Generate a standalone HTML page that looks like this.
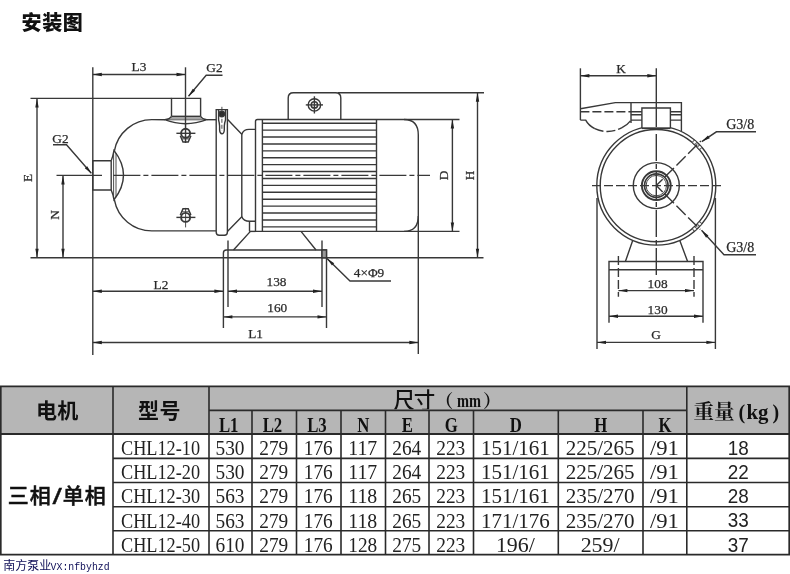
<!DOCTYPE html>
<html lang="zh-CN">
<head>
<meta charset="utf-8">
<title>安装图</title>
<style>
html,body{margin:0;padding:0;background:#fff;}
body{width:790px;height:574px;overflow:hidden;position:relative;font-family:"Liberation Serif","Noto Serif CJK SC",serif;}
svg{position:absolute;left:0;top:0;display:block;filter:blur(0.45px);}
.g line,.g path,.g circle,.g rect,.g ellipse{stroke:#383838;stroke-width:1.4;fill:none;stroke-linecap:butt;}
.g .th{stroke-width:0.9;}
.g .ar{fill:#222;stroke:none;}
.g .cl{stroke-dasharray:27 3 5 3;}
.g .ds{stroke-dasharray:9 3;}
.g .dd{stroke-dasharray:9 3 13 3.5 13 3.5 13 3.5;}
.g .fill{fill:#fff;}
.dt{font-family:"Liberation Serif",serif;font-size:13.3px;fill:#2a2a2a;stroke:#2a2a2a;stroke-width:0.25;}
.title{font-family:"Liberation Sans","Noto Sans CJK SC",sans-serif;font-weight:900;font-size:20px;letter-spacing:0.6px;fill:#111;}
.t line{stroke:#2a2a2a;stroke-width:1.6;}
.t .bd{stroke-width:1.9;}
.hb{font-family:"Liberation Sans","Noto Sans CJK SC",sans-serif;font-weight:bold;fill:#111;}
.hs{font-family:"Liberation Serif","Noto Serif CJK SC",serif;font-weight:bold;fill:#111;}
.hr{font-family:"Liberation Sans","Noto Sans CJK SC",sans-serif;fill:#111;}
.td{font-family:"Liberation Serif","Noto Serif CJK SC",serif;font-size:20.5px;fill:#222;}
.tw{font-family:"Liberation Sans",sans-serif;font-size:20px;fill:#222;}
.wm{font-size:12px;fill:#0d0d56;}
.wmc{font-family:"Liberation Sans","Noto Sans CJK SC",sans-serif;font-size:12px;}
.wml{font-family:"Liberation Mono",monospace;font-size:11.5px;}
</style>
</head>
<body>
<svg width="790" height="574" viewBox="0 0 790 574">
<text x="21.6" y="29.6" class="title" text-anchor="start">安装图</text>
<g class="g">
<line x1="92.8" y1="67.3" x2="92.8" y2="355"/>
<line x1="185.5" y1="67.3" x2="185.5" y2="143"/>
<line x1="92.8" y1="74.5" x2="185.5" y2="74.5"/>
<polygon class="ar" points="92.8,74.5 101.8,76.2 101.8,72.8"/>
<polygon class="ar" points="185.5,74.5 176.5,72.8 176.5,76.2"/>
<path d="M188.5 96.2 L206.2 75.2 L222.5 75.2"/>
<polygon class="ar" points="188.5,96.2 195.2,90.73 192.75,88.67"/>
<line x1="30.5" y1="98.4" x2="171.5" y2="98.4"/>
<line x1="37" y1="98.4" x2="37" y2="257.8"/>
<polygon class="ar" points="37,98.4 35.3,107.4 38.7,107.4"/>
<polygon class="ar" points="37,257.8 38.7,248.8 35.3,248.8"/>
<line x1="30.5" y1="257.8" x2="483.5" y2="257.8"/>
<line x1="63" y1="175.4" x2="63" y2="257.8"/>
<polygon class="ar" points="63,175.4 61.3,184.4 64.7,184.4"/>
<polygon class="ar" points="63,257.8 64.7,248.8 61.3,248.8"/>
<line x1="56.5" y1="175.4" x2="102" y2="175.4"/>
<line x1="113.4" y1="175.4" x2="430" y2="175.4" class="cl"/>
<path d="M53 144.8 L66.5 144.8 L91.3 173.3"/>
<polygon class="ar" points="91.6,173.6 87.23,166.14 84.81,168.24"/>
<path d="M111.2 160.8 L92.8 160.8 L92.8 190 L111.2 190"/>
<path d="M111.2 160.8 L111.2 190"/>
<path d="M111.2 160.8 Q113 156 114 150.4 Q133 175.2 114 199.8 Q113 194 111.2 190"/>
<path d="M113.6 151.5 L113.6 199" class="th"/>
<path d="M116 153 L116 197.3" class="th"/>
<path d="M114.4 150.8 A38 38 0 0 1 152 119.6 L165 119.7"/>
<path d="M206.8 119.7 L216.2 119.7"/>
<path d="M114.4 199.8 A38 38 0 0 0 152 230.9 L216.2 230.9"/>
<path d="M171.5 116.3 L171.5 98.4 L200.6 98.4 L200.6 116.3"/>
<path d="M171.5 116.3 L200.6 116.3"/>
<path d="M171.5 116.3 Q170 119 164.7 119.7 Q185.5 127.8 206.8 119.7 Q202 119 200.6 116.3"/>
<path d="M170.4 118 L201.8 118" class="th"/>
<path d="M166 119.8 L205.5 119.8" class="th"/>
<circle cx="185.6" cy="133.3" r="4.5" style="stroke-width:1.9"/>
<line x1="176.4" y1="133.3" x2="195.4" y2="133.3"/>
<path d="M180.3 135.70000000000002 L183 142.0 L188.2 142.0 L190.9 135.70000000000002" style="stroke-width:1.5"/>
<path d="M181.6 138.9 L189.6 138.9" class="th"/>
<line x1="185.6" y1="123.3" x2="185.6" y2="142.8" class="th"/>
<circle cx="185.6" cy="217.4" r="4.5" style="stroke-width:1.9"/>
<line x1="176.4" y1="217.4" x2="195.4" y2="217.4"/>
<path d="M180.3 215.0 L183 208.70000000000002 L188.2 208.70000000000002 L190.9 215.0" style="stroke-width:1.5"/>
<path d="M181.6 211.8 L189.6 211.8" class="th"/>
<line x1="185.6" y1="227.4" x2="185.6" y2="207.9" class="th"/>
<path d="M216.2 232 L216.2 109.6 L227.4 109.6 L227.4 232 Q227.4 235.2 224.4 235.2 L219.2 235.2 Q216.2 235.2 216.2 232 Z"/>
<circle cx="221.8" cy="114" r="2.7" style="fill:#2a2a2a"/>
<path d="M218.6 110 L218.6 120 Q219.4 123 219.6 126 L219.6 130 Q219.9 133.8 221.9 133.8 Q224 133.8 224.3 130 L224.3 126 Q224.5 123 225.5 120 L225.5 110"/>
<line x1="221.9" y1="106.8" x2="221.9" y2="131" class="th" stroke-dasharray="4 2"/>
<path d="M227.4 119.2 L241.8 134.3 L241.8 216.7 L227.4 231.6"/>
<path d="M241.8 134.3 Q243.5 129.4 249 129.4 L255.5 129.4"/>
<path d="M241.8 216.7 Q243.5 221.2 249.5 221.2 L255.5 221.2"/>
<path d="M249.5 221.2 L249.5 231.4"/>
<path d="M255.5 231.4 L255.5 121.5 Q255.5 119.5 257.5 119.5 L404 119.5 Q418.3 119.5 418.3 135 L418.3 216 Q418.3 231.4 404 231.4 Z"/>
<line x1="262.4" y1="119.5" x2="262.4" y2="231.4"/>
<line x1="376.5" y1="119.5" x2="376.5" y2="231.4"/>
<line x1="262.4" y1="123.2" x2="376.5" y2="123.2"/>
<line x1="262.4" y1="130.11" x2="376.5" y2="130.11"/>
<line x1="262.4" y1="137.02" x2="376.5" y2="137.02"/>
<line x1="262.4" y1="143.93" x2="376.5" y2="143.93"/>
<line x1="262.4" y1="150.84" x2="376.5" y2="150.84"/>
<line x1="262.4" y1="157.75" x2="376.5" y2="157.75"/>
<line x1="262.4" y1="164.66" x2="376.5" y2="164.66"/>
<line x1="262.4" y1="171.57" x2="376.5" y2="171.57"/>
<line x1="262.4" y1="178.48" x2="376.5" y2="178.48"/>
<line x1="262.4" y1="185.39" x2="376.5" y2="185.39"/>
<line x1="262.4" y1="192.3" x2="376.5" y2="192.3"/>
<line x1="262.4" y1="199.21" x2="376.5" y2="199.21"/>
<line x1="262.4" y1="206.12" x2="376.5" y2="206.12"/>
<line x1="262.4" y1="213.03" x2="376.5" y2="213.03"/>
<line x1="262.4" y1="219.94" x2="376.5" y2="219.94"/>
<line x1="262.4" y1="226.85" x2="376.5" y2="226.85"/>
<path d="M288.2 119.5 L288.2 98 Q288.2 92.8 293.4 92.8 L335.6 92.8 Q340.8 92.8 340.8 98 L340.8 119.5"/>
<circle cx="314.4" cy="104.9" r="6.2"/>
<circle cx="314.4" cy="104.9" r="3.2" style="stroke-width:1.5"/>
<line x1="305.8" y1="104.9" x2="323" y2="104.9"/>
<line x1="314.4" y1="96.3" x2="314.4" y2="113.5"/>
<line x1="338" y1="92.8" x2="484" y2="92.8"/>
<line x1="404" y1="119.5" x2="459.5" y2="119.5"/>
<line x1="404" y1="231.4" x2="459.5" y2="231.4"/>
<line x1="452.4" y1="119.5" x2="452.4" y2="231.4"/>
<polygon class="ar" points="452.4,119.5 450.7,128.5 454.1,128.5"/>
<polygon class="ar" points="452.4,231.4 454.1,222.4 450.7,222.4"/>
<line x1="477.5" y1="92.8" x2="477.5" y2="257.8"/>
<polygon class="ar" points="477.5,92.8 475.8,101.8 479.2,101.8"/>
<polygon class="ar" points="477.5,257.8 479.2,248.8 475.8,248.8"/>
<line x1="418.3" y1="216" x2="418.3" y2="354"/>
<path d="M250.4 231.4 L233.5 250 M301 231.4 L316 250"/>
<line x1="249.5" y1="231.4" x2="255.5" y2="231.4"/>
<path d="M223.4 328 L223.4 253 Q223.4 250 226.4 250 L326.5 250 L326.5 328"/>
<line x1="228" y1="240.5" x2="228" y2="307"/>
<line x1="322" y1="240.5" x2="322" y2="307"/>
<rect x="322" y="250" width="4.5" height="7.8" style="fill:#999"/>
<line x1="228" y1="291.2" x2="322" y2="291.2"/>
<polygon class="ar" points="228,291.2 237,292.9 237,289.5"/>
<polygon class="ar" points="322,291.2 313,289.5 313,292.9"/>
<line x1="223.4" y1="316.9" x2="326.5" y2="316.9"/>
<polygon class="ar" points="223.4,316.9 232.4,318.6 232.4,315.2"/>
<polygon class="ar" points="326.5,316.9 317.5,315.2 317.5,318.6"/>
<line x1="92.8" y1="291.2" x2="223.4" y2="291.2"/>
<polygon class="ar" points="92.8,291.2 101.8,292.9 101.8,289.5"/>
<polygon class="ar" points="223.4,291.2 214.4,289.5 214.4,292.9"/>
<line x1="92.8" y1="342.5" x2="418.3" y2="342.5"/>
<polygon class="ar" points="92.8,342.5 101.8,344.2 101.8,340.8"/>
<polygon class="ar" points="418.3,342.5 409.3,340.8 409.3,344.2"/>
<path d="M327 258.5 L350 281 L391 281"/>
<polygon class="ar" points="327,258.5 331.96,265.59 334.19,263.3"/>
<line x1="580.4" y1="68.3" x2="580.4" y2="120.1"/>
<line x1="580.4" y1="75.8" x2="656.3" y2="75.8"/>
<polygon class="ar" points="580.4,75.8 589.4,77.5 589.4,74.1"/>
<polygon class="ar" points="656.3,75.8 647.3,74.1 647.3,77.5"/>
<circle cx="656.3" cy="185.6" r="59.5"/>
<circle cx="656.3" cy="185.6" r="56.1"/>
<circle cx="656.3" cy="185.6" r="23"/>
<circle cx="656.3" cy="185.6" r="14.4" style="stroke-width:1.9"/>
<circle cx="656.3" cy="185.6" r="11.8" style="stroke-width:1.7"/>
<circle cx="656.3" cy="185.6" r="10.2" class="th"/>
<line x1="592" y1="185.6" x2="721" y2="185.6" class="ds"/>
<line x1="656.3" y1="134" x2="656.3" y2="278" class="cl"/>
<line x1="656.3" y1="185.6" x2="700.8" y2="141.1" class="dd"/>
<line x1="656.3" y1="185.6" x2="700.3" y2="229.6" class="dd"/>
<path d="M631 123 L631 102.6 L681.4 102.6 L681.4 131"/>
<path d="M631 111.7 L641.9 111.7 M670.4 111.7 L681.4 111.7"/>
<path d="M631 114.8 L641.9 114.8 M670.4 114.8 L681.4 114.8"/>
<path d="M631 120.1 L641.9 120.1 M670.4 120.1 L681.4 120.1"/>
<path d="M641.9 128.2 L641.9 108 L670.4 108 L670.4 128.2" class="fill"/>
<path d="M641.9 128.2 L670.4 128.2" style="stroke-width:1.8"/>
<line x1="656.3" y1="68.3" x2="656.3" y2="127"/>
<path d="M631 102.6 L615.3 102.6 L580.4 108.7"/>
<path d="M580.4 111.7 L631 111.7" class="ds"/>
<path d="M580.4 120.1 L585.7 120.1 Q588.5 125.5 594.8 128.6"/>
<path d="M594.8 128.6 Q608.5 134.8 622 127.7" class="ds"/>
<path d="M622 127.7 Q627.5 124.8 630.5 120.9"/>
<path d="M701.8 141.6 L716.4 131.8 L756 131.8"/>
<polygon class="ar" points="701.8,141.6 709.75,138.19 707.97,135.53"/>
<path d="M701.5 230.3 L724 254.8 L756 254.8"/>
<polygon class="ar" points="701.5,230.3 706.07,237.64 708.43,235.48"/>
<circle cx="694.6" cy="142.31" r="1.9" class="th" style="fill:#fff"/>
<circle cx="699.59" cy="147.3" r="1.9" class="th" style="fill:#fff"/>
<circle cx="699.59" cy="223.9" r="1.9" class="th" style="fill:#fff"/>
<circle cx="694.6" cy="228.89" r="1.9" class="th" style="fill:#fff"/>
<path d="M632.7 240.5 L625.4 261.5 M679.8 240.5 L687.6 261.5"/>
<path d="M609 322.8 L609 261.5 L703 261.5 L703 322.8"/>
<line x1="609" y1="269.7" x2="703" y2="269.7"/>
<line x1="618.4" y1="256" x2="618.4" y2="296.7" class="ds"/>
<line x1="694" y1="256" x2="694" y2="296.7" class="ds"/>
<line x1="618.4" y1="290.6" x2="694" y2="290.6"/>
<polygon class="ar" points="618.4,290.6 627.4,292.3 627.4,288.9"/>
<polygon class="ar" points="694,290.6 685,288.9 685,292.3"/>
<line x1="609" y1="316.3" x2="703" y2="316.3"/>
<polygon class="ar" points="609,316.3 618,318 618,314.6"/>
<polygon class="ar" points="703,316.3 694,314.6 694,318"/>
<line x1="597" y1="198" x2="597" y2="349"/>
<line x1="715.4" y1="198" x2="715.4" y2="349"/>
<line x1="597" y1="342.4" x2="715.4" y2="342.4"/>
<polygon class="ar" points="597,342.4 606,344.1 606,340.7"/>
<polygon class="ar" points="715.4,342.4 706.4,340.7 706.4,344.1"/>
</g>
<text x="139" y="71" class="dt" text-anchor="middle">L3</text>
<text x="214.5" y="71.5" class="dt" text-anchor="middle">G2</text>
<text x="60.5" y="142.6" class="dt" text-anchor="middle">G2</text>
<text class="dt" text-anchor="middle" transform="translate(32.3 178) rotate(-90)">E</text>
<text class="dt" text-anchor="middle" transform="translate(59 215) rotate(-90)">N</text>
<text x="161" y="288.5" class="dt" text-anchor="middle">L2</text>
<text x="276.5" y="285.7" class="dt" text-anchor="middle">138</text>
<text x="277.3" y="312.2" class="dt" text-anchor="middle">160</text>
<text x="255.6" y="338" class="dt" text-anchor="middle">L1</text>
<text x="369" y="277" class="dt" text-anchor="middle">4×Φ9</text>
<text class="dt" text-anchor="middle" transform="translate(448 175.4) rotate(-90)">D</text>
<text class="dt" text-anchor="middle" transform="translate(473.5 175.4) rotate(-90)">H</text>
<text x="621" y="73" class="dt" text-anchor="middle">K</text>
<text x="740.2" y="128.6" class="dt" text-anchor="middle" style="font-size:14px">G3/8</text>
<text x="740.2" y="252" class="dt" text-anchor="middle" style="font-size:14px">G3/8</text>
<text x="657.6" y="287.9" class="dt" text-anchor="middle">108</text>
<text x="657.6" y="313.9" class="dt" text-anchor="middle">130</text>
<text x="656" y="339" class="dt" text-anchor="middle">G</text>
<g class="t">
<rect x="0" y="386.4" width="790" height="47.60000000000002" fill="#b6b6b6"/>
<line x1="0" y1="386.4" x2="790" y2="386.4" class="bd"/>
<line x1="209" y1="410.4" x2="686.8" y2="410.4"/>
<line x1="0" y1="434" x2="790" y2="434" class="bd"/>
<line x1="113" y1="458.4" x2="790" y2="458.4"/>
<line x1="113" y1="482.5" x2="790" y2="482.5"/>
<line x1="113" y1="506.7" x2="790" y2="506.7"/>
<line x1="113" y1="530.8" x2="790" y2="530.8"/>
<line x1="0" y1="554.6" x2="790" y2="554.6"/>
<line x1="0.7" y1="386.4" x2="0.7" y2="554.6" class="bd"/>
<line x1="113" y1="386.4" x2="113" y2="554.6"/>
<line x1="209" y1="386.4" x2="209" y2="554.6"/>
<line x1="252" y1="410.4" x2="252" y2="554.6"/>
<line x1="296.5" y1="410.4" x2="296.5" y2="554.6"/>
<line x1="341" y1="410.4" x2="341" y2="554.6"/>
<line x1="385.5" y1="410.4" x2="385.5" y2="554.6"/>
<line x1="429" y1="410.4" x2="429" y2="554.6"/>
<line x1="473.5" y1="410.4" x2="473.5" y2="554.6"/>
<line x1="558.3" y1="410.4" x2="558.3" y2="554.6"/>
<line x1="643" y1="410.4" x2="643" y2="554.6"/>
<line x1="686.8" y1="386.4" x2="686.8" y2="554.6"/>
<line x1="789.3" y1="386.4" x2="789.3" y2="554.6" class="bd"/>
</g>
<text x="57.2" y="418.3" class="hb" text-anchor="middle" font-size="21" letter-spacing="0.3">电机</text>
<text x="159.5" y="418.3" class="hb" text-anchor="middle" font-size="21" letter-spacing="0.6">型号</text>
<clipPath id="hc"><rect x="380" y="386" width="130" height="23.3"/></clipPath>
<g clip-path="url(#hc)"><text y="408.4"><tspan x="393.3" class="hr" font-size="21.5" letter-spacing="-1" font-weight="500">尺寸</tspan><tspan x="435.2" dy="-1.9" class="hs" font-size="18">（</tspan><tspan x="457" class="hs" font-size="18" textLength="24" lengthAdjust="spacingAndGlyphs">mm</tspan><tspan x="483" class="hs" font-size="18">）</tspan></text></g>
<text y="418.8" class="hs" font-size="20.5"><tspan x="693.5">重量</tspan><tspan x="738.5" font-size="20">(</tspan><tspan x="746.5" font-size="20" textLength="22" lengthAdjust="spacingAndGlyphs">kg</tspan><tspan x="772.5" font-size="20">)</tspan></text>
<text class="hs" font-size="21.5" text-anchor="middle" transform="translate(228.7 431.8) scale(0.78 1)">L1</text>
<text class="hs" font-size="21.5" text-anchor="middle" transform="translate(272.45 431.8) scale(0.78 1)">L2</text>
<text class="hs" font-size="21.5" text-anchor="middle" transform="translate(316.95 431.8) scale(0.78 1)">L3</text>
<text class="hs" font-size="21.5" text-anchor="middle" transform="translate(363.25 431.8) scale(0.78 1)">N</text>
<text class="hs" font-size="21.5" text-anchor="middle" transform="translate(407.25 431.8) scale(0.78 1)">E</text>
<text class="hs" font-size="21.5" text-anchor="middle" transform="translate(451.25 431.8) scale(0.78 1)">G</text>
<text class="hs" font-size="21.5" text-anchor="middle" transform="translate(515.9 431.8) scale(0.78 1)">D</text>
<text class="hs" font-size="21.5" text-anchor="middle" transform="translate(600.65 431.8) scale(0.78 1)">H</text>
<text class="hs" font-size="21.5" text-anchor="middle" transform="translate(664.9 431.8) scale(0.78 1)">K</text>
<text class="hb" font-size="21" y="503.4" style="font-weight:500;stroke:#111;stroke-width:0.5"><tspan x="7.8 29.8">三相</tspan><tspan x="52.4" dy="0.4" font-size="22" stroke-width="0.3" textLength="9.4" lengthAdjust="spacingAndGlyphs">/</tspan><tspan x="62.8 84.8" dy="-0.4">单相</tspan></text>
<text x="121" y="454.8" class="td" text-anchor="start" textLength="79" lengthAdjust="spacingAndGlyphs">CHL12-10</text>
<text x="215.5" y="454.8" class="td" text-anchor="start" textLength="29" lengthAdjust="spacingAndGlyphs">530</text>
<text x="259.25" y="454.8" class="td" text-anchor="start" textLength="29" lengthAdjust="spacingAndGlyphs">279</text>
<text x="303.75" y="454.8" class="td" text-anchor="start" textLength="29" lengthAdjust="spacingAndGlyphs">176</text>
<text x="348.25" y="454.8" class="td" text-anchor="start" textLength="29" lengthAdjust="spacingAndGlyphs">117</text>
<text x="392.25" y="454.8" class="td" text-anchor="start" textLength="29" lengthAdjust="spacingAndGlyphs">264</text>
<text x="436.25" y="454.8" class="td" text-anchor="start" textLength="29" lengthAdjust="spacingAndGlyphs">223</text>
<text x="480.9" y="454.8" class="td" text-anchor="start" textLength="69" lengthAdjust="spacingAndGlyphs">151/161</text>
<text x="565.65" y="454.8" class="td" text-anchor="start" textLength="69" lengthAdjust="spacingAndGlyphs">225/265</text>
<text x="649.9" y="454.8" class="td" text-anchor="start" textLength="29" lengthAdjust="spacingAndGlyphs">/91</text>
<text x="727.65" y="454.7" class="tw" text-anchor="start" textLength="21" lengthAdjust="spacingAndGlyphs">18</text>
<text x="121" y="479.2" class="td" text-anchor="start" textLength="79" lengthAdjust="spacingAndGlyphs">CHL12-20</text>
<text x="215.5" y="479.2" class="td" text-anchor="start" textLength="29" lengthAdjust="spacingAndGlyphs">530</text>
<text x="259.25" y="479.2" class="td" text-anchor="start" textLength="29" lengthAdjust="spacingAndGlyphs">279</text>
<text x="303.75" y="479.2" class="td" text-anchor="start" textLength="29" lengthAdjust="spacingAndGlyphs">176</text>
<text x="348.25" y="479.2" class="td" text-anchor="start" textLength="29" lengthAdjust="spacingAndGlyphs">117</text>
<text x="392.25" y="479.2" class="td" text-anchor="start" textLength="29" lengthAdjust="spacingAndGlyphs">264</text>
<text x="436.25" y="479.2" class="td" text-anchor="start" textLength="29" lengthAdjust="spacingAndGlyphs">223</text>
<text x="480.9" y="479.2" class="td" text-anchor="start" textLength="69" lengthAdjust="spacingAndGlyphs">151/161</text>
<text x="565.65" y="479.2" class="td" text-anchor="start" textLength="69" lengthAdjust="spacingAndGlyphs">225/265</text>
<text x="649.9" y="479.2" class="td" text-anchor="start" textLength="29" lengthAdjust="spacingAndGlyphs">/91</text>
<text x="727.65" y="479.1" class="tw" text-anchor="start" textLength="21" lengthAdjust="spacingAndGlyphs">22</text>
<text x="121" y="503.3" class="td" text-anchor="start" textLength="79" lengthAdjust="spacingAndGlyphs">CHL12-30</text>
<text x="215.5" y="503.3" class="td" text-anchor="start" textLength="29" lengthAdjust="spacingAndGlyphs">563</text>
<text x="259.25" y="503.3" class="td" text-anchor="start" textLength="29" lengthAdjust="spacingAndGlyphs">279</text>
<text x="303.75" y="503.3" class="td" text-anchor="start" textLength="29" lengthAdjust="spacingAndGlyphs">176</text>
<text x="348.25" y="503.3" class="td" text-anchor="start" textLength="29" lengthAdjust="spacingAndGlyphs">118</text>
<text x="392.25" y="503.3" class="td" text-anchor="start" textLength="29" lengthAdjust="spacingAndGlyphs">265</text>
<text x="436.25" y="503.3" class="td" text-anchor="start" textLength="29" lengthAdjust="spacingAndGlyphs">223</text>
<text x="480.9" y="503.3" class="td" text-anchor="start" textLength="69" lengthAdjust="spacingAndGlyphs">151/161</text>
<text x="565.65" y="503.3" class="td" text-anchor="start" textLength="69" lengthAdjust="spacingAndGlyphs">235/270</text>
<text x="649.9" y="503.3" class="td" text-anchor="start" textLength="29" lengthAdjust="spacingAndGlyphs">/91</text>
<text x="727.65" y="503.2" class="tw" text-anchor="start" textLength="21" lengthAdjust="spacingAndGlyphs">28</text>
<text x="121" y="527.5" class="td" text-anchor="start" textLength="79" lengthAdjust="spacingAndGlyphs">CHL12-40</text>
<text x="215.5" y="527.5" class="td" text-anchor="start" textLength="29" lengthAdjust="spacingAndGlyphs">563</text>
<text x="259.25" y="527.5" class="td" text-anchor="start" textLength="29" lengthAdjust="spacingAndGlyphs">279</text>
<text x="303.75" y="527.5" class="td" text-anchor="start" textLength="29" lengthAdjust="spacingAndGlyphs">176</text>
<text x="348.25" y="527.5" class="td" text-anchor="start" textLength="29" lengthAdjust="spacingAndGlyphs">118</text>
<text x="392.25" y="527.5" class="td" text-anchor="start" textLength="29" lengthAdjust="spacingAndGlyphs">265</text>
<text x="436.25" y="527.5" class="td" text-anchor="start" textLength="29" lengthAdjust="spacingAndGlyphs">223</text>
<text x="480.9" y="527.5" class="td" text-anchor="start" textLength="69" lengthAdjust="spacingAndGlyphs">171/176</text>
<text x="565.65" y="527.5" class="td" text-anchor="start" textLength="69" lengthAdjust="spacingAndGlyphs">235/270</text>
<text x="649.9" y="527.5" class="td" text-anchor="start" textLength="29" lengthAdjust="spacingAndGlyphs">/91</text>
<text x="727.65" y="527.4" class="tw" text-anchor="start" textLength="21" lengthAdjust="spacingAndGlyphs">33</text>
<text x="121" y="551.6" class="td" text-anchor="start" textLength="79" lengthAdjust="spacingAndGlyphs">CHL12-50</text>
<text x="215.5" y="551.6" class="td" text-anchor="start" textLength="29" lengthAdjust="spacingAndGlyphs">610</text>
<text x="259.25" y="551.6" class="td" text-anchor="start" textLength="29" lengthAdjust="spacingAndGlyphs">279</text>
<text x="303.75" y="551.6" class="td" text-anchor="start" textLength="29" lengthAdjust="spacingAndGlyphs">176</text>
<text x="348.25" y="551.6" class="td" text-anchor="start" textLength="29" lengthAdjust="spacingAndGlyphs">128</text>
<text x="392.25" y="551.6" class="td" text-anchor="start" textLength="29" lengthAdjust="spacingAndGlyphs">275</text>
<text x="436.25" y="551.6" class="td" text-anchor="start" textLength="29" lengthAdjust="spacingAndGlyphs">223</text>
<text x="495.9" y="551.6" class="td" text-anchor="start" textLength="39" lengthAdjust="spacingAndGlyphs">196/</text>
<text x="580.65" y="551.6" class="td" text-anchor="start" textLength="39" lengthAdjust="spacingAndGlyphs">259/</text>
<text x="727.65" y="551.5" class="tw" text-anchor="start" textLength="21" lengthAdjust="spacingAndGlyphs">37</text>
<text y="569.6" class="wm"><tspan x="3.2" class="wmc">南方泵业</tspan><tspan x="50.6" class="wml" textLength="59" lengthAdjust="spacingAndGlyphs">VX:nfbyhzd</tspan></text>
</svg>
</body>
</html>
